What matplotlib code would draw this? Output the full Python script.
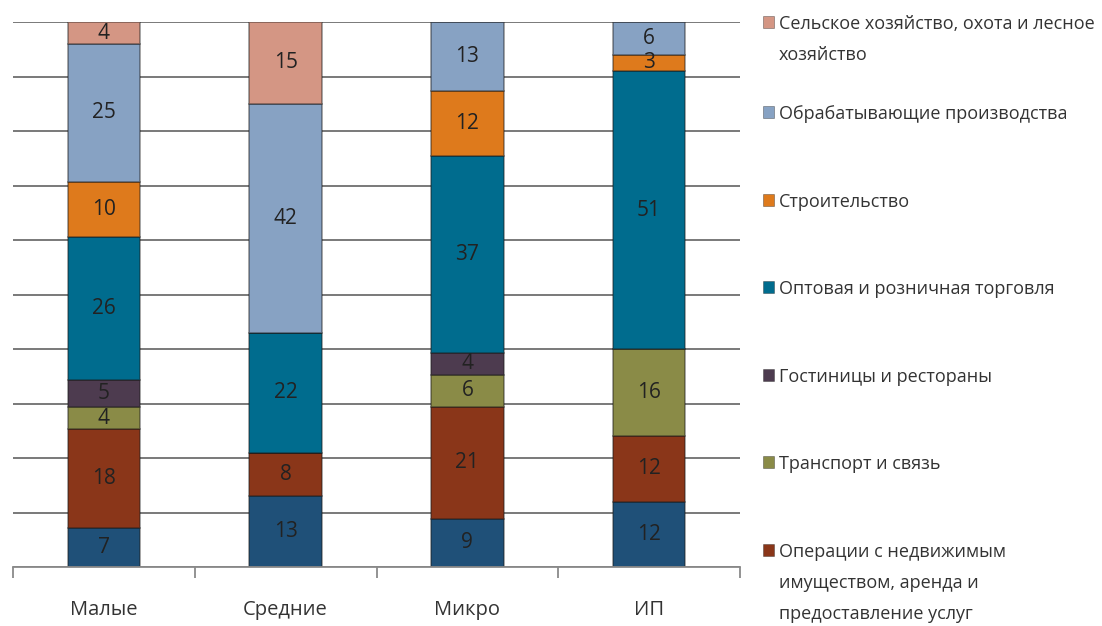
import matplotlib.pyplot as plt
import numpy as np
from matplotlib.patches import Rectangle

plt.rcParams['font.family'] = ['Open Sans', 'DejaVu Sans']

categories = ['Малые', 'Средние', 'Микро', 'ИП']

# series from bottom to top (values in %)
other = [7, 13, 9, 12]
realty = [18, 8, 21, 12]
transport = [4, 0, 6, 16]
hotels = [5, 0, 4, 0]
trade = [26, 22, 37, 51]
building = [10, 0, 12, 3]
manufacturing = [25, 42, 13, 6]
agriculture = [4, 15, 0, 0]

series_names = ['Прочие',
                'Операции с недвижимым\nимуществом, аренда и\nпредоставление услуг',
                'Транспорт и связь',
                'Гостиницы и рестораны',
                'Оптовая и розничная торговля',
                'Строительство',
                'Обрабатывающие производства',
                'Сельское хозяйство, охота и лесное\nхозяйство']
series = [other, realty, transport, hotels, trade, building, manufacturing, agriculture]
colors = ['#1F5078', '#8A3619', '#8A8B47', '#4D3B4F', '#006C8E', '#DE7A1C', '#87A2C3', '#D49684']

fig = plt.figure(figsize=(11.02, 6.26), dpi=100)
ax = fig.add_axes([13/1102, 1-567/626, 727/1102, 545/626])

data = np.array(series, dtype=float)
totals = data.sum(axis=0)
x = np.arange(len(categories))
bottom = np.zeros(len(categories))
for vals, col in zip(data, colors):
    h = vals / totals * 100
    ax.bar(x, h, 0.4, bottom=bottom, color=col, edgecolor=(0.1, 0.1, 0.1, 0.5), linewidth=1.1, zorder=2)
    for i in range(len(x)):
        if vals[i] > 0:
            ax.text(x[i], bottom[i] + h[i] / 2, '%d' % vals[i], ha='center', va='center',
                    fontsize=15, color='#222222', zorder=3)
    bottom += h

ax.set_xlim(-0.5, 3.5)
ax.set_ylim(0, 100)
ax.set_yticks(np.arange(0, 101, 10))
ax.yaxis.grid(True, color='#6e6e6e', linewidth=1.3)
ax.set_axisbelow(True)
ax.tick_params(axis='y', length=0, labelleft=False)
for s in ['left', 'right', 'top']:
    ax.spines[s].set_visible(False)
ax.spines['bottom'].set_color('#8a8a8a')
ax.spines['bottom'].set_linewidth(1.3)
ax.set_xticks(x)
ax.set_xticklabels(categories, fontsize=14.5, color='#333333')
ax.tick_params(axis='x', which='major', length=0, pad=24)
ax.set_xticks(np.arange(-0.5, 4, 1), minor=True)
ax.tick_params(axis='x', which='minor', length=8, width=1.3, color='#8a8a8a')

# legend (top to bottom), drawn by hand to keep the even spacing
leg_y = [22, 112, 200, 287, 375, 462, 550]
for k, idx in enumerate(range(7, 0, -1)):
    yc = leg_y[k]
    fig.add_artist(Rectangle((763/1102, 1-(yc+6)/626), 11/1102, 12/626,
                             transform=fig.transFigure, facecolor=colors[idx],
                             edgecolor=(0.1, 0.1, 0.1, 0.4), linewidth=0.6))
    for j, line in enumerate(series_names[idx].split('\n')):
        fig.text(779/1102, 1-(yc+7+j*31)/626, line, fontsize=13, color='#333333',
                 va='baseline', ha='left')

fig.savefig('out.png', dpi=100)
